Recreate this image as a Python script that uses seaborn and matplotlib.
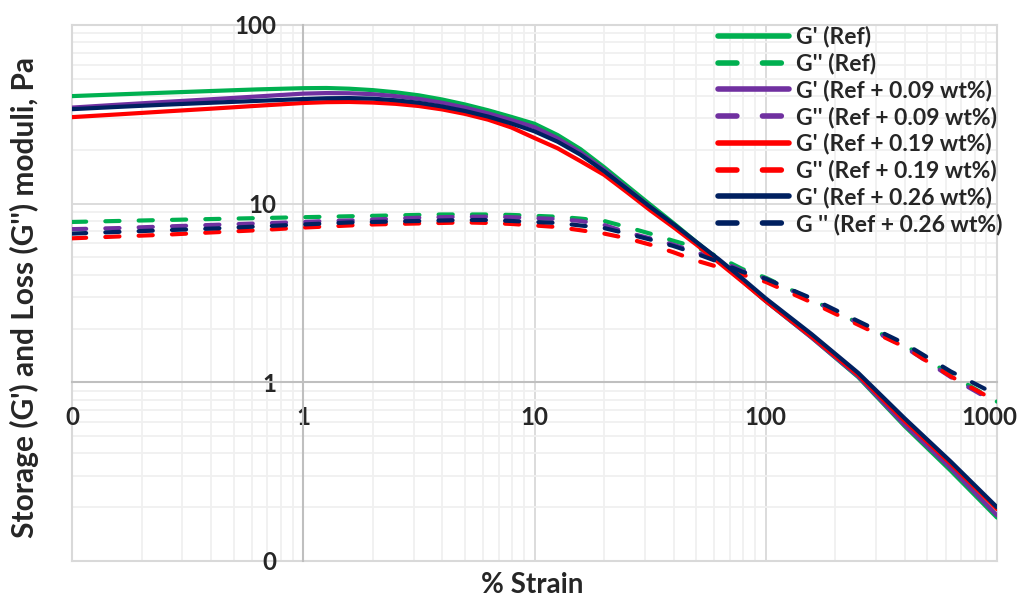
import matplotlib
matplotlib.use("Agg")
import matplotlib.pyplot as plt
from matplotlib import font_manager
from matplotlib.transforms import ScaledTranslation
from matplotlib.ticker import FixedLocator, FixedFormatter, LogLocator, NullFormatter
import seaborn as sns
import pandas as pd

# ---------------- data ----------------
strain = [0.1, 0.158, 0.251, 0.398, 0.631, 1, 1.26, 1.58, 2, 2.51, 3.16, 3.98,
          5.01, 6.31, 7.94, 10, 12.6, 15.8, 20, 25.1, 31.6, 39.8, 50.1, 63.1,
          79.4, 100, 158, 251, 398, 631, 1000]

gp_ref = [40.0, 40.9, 41.8, 42.7, 43.6, 44.3, 44.4, 44.0, 43.2, 42.0, 40.4, 38.3,
          35.9, 33.3, 30.6, 28.0, 24.2, 20.2, 16.0, 12.6, 9.9, 7.8, 6.1, 4.8,
          3.7, 2.85, 1.78, 1.07, 0.57, 0.32, 0.175]
gpp_ref = [7.9, 8.0, 8.1, 8.2, 8.3, 8.4, 8.45, 8.5, 8.55, 8.6, 8.65, 8.7,
           8.7, 8.7, 8.65, 8.55, 8.45, 8.25, 8.0, 7.4, 6.8, 6.2, 5.7, 5.0,
           4.3, 3.85, 2.9, 2.15, 1.62, 1.1, 0.78]

gp_009 = [34.5, 35.8, 37.1, 38.4, 39.8, 41.3, 41.6, 41.5, 41.0, 40.0, 38.6, 36.7,
          34.5, 32.0, 29.4, 26.8, 23.2, 19.4, 15.5, 12.2, 9.6, 7.6, 6.0, 4.75,
          3.68, 2.85, 1.78, 1.08, 0.58, 0.33, 0.18]
gpp_009 = [7.2, 7.3, 7.45, 7.6, 7.75, 7.9, 8.0, 8.05, 8.15, 8.25, 8.35, 8.4,
           8.45, 8.45, 8.4, 8.3, 8.2, 8.0, 7.6, 6.9, 6.4, 5.9, 5.35, 4.8,
           4.2, 3.8, 2.9, 2.15, 1.58, 1.07, 0.76]

gp_019 = [30.5, 31.6, 32.8, 34.0, 35.3, 36.6, 37.0, 37.1, 36.8, 36.2, 35.2, 33.7,
          31.8, 29.5, 26.7, 23.3, 20.4, 17.3, 14.5, 11.6, 9.2, 7.4, 5.9, 4.65,
          3.65, 2.85, 1.8, 1.1, 0.61, 0.35, 0.195]
gpp_019 = [6.4, 6.55, 6.7, 6.9, 7.1, 7.35, 7.45, 7.55, 7.65, 7.7, 7.75, 7.8,
           7.85, 7.8, 7.7, 7.55, 7.4, 7.1, 6.8, 6.4, 5.9, 5.35, 4.8, 4.4,
           4.0, 3.65, 2.8, 2.1, 1.58, 1.08, 0.78]

gp_026 = [33.8, 34.8, 35.8, 36.7, 37.6, 38.5, 38.9, 39.0, 38.7, 37.9, 36.7, 35.0,
          33.0, 30.7, 28.1, 25.4, 22.2, 18.8, 15.2, 12.1, 9.6, 7.7, 6.1, 4.85,
          3.8, 2.95, 1.86, 1.13, 0.63, 0.36, 0.2]
gpp_026 = [6.8, 6.95, 7.1, 7.25, 7.45, 7.65, 7.75, 7.85, 7.9, 7.95, 8.0, 8.05,
           8.1, 8.1, 8.0, 7.9, 7.8, 7.55, 7.3, 6.8, 6.3, 5.8, 5.25, 4.7,
           4.15, 3.8, 2.95, 2.2, 1.65, 1.15, 0.85]

labels = ["G' (Ref)", "G'' (Ref)",
          "G' (Ref + 0.09 wt%)", "G'' (Ref + 0.09 wt%)",
          "G' (Ref + 0.19 wt%)", "G'' (Ref + 0.19 wt%)",
          "G' (Ref + 0.26 wt%)", "G '' (Ref + 0.26 wt%)"]
series = [gp_ref, gpp_ref, gp_009, gpp_009, gp_019, gpp_019, gp_026, gpp_026]
colors = ["#00B050", "#00B050", "#7030A0", "#7030A0",
          "#FF0000", "#FF0000", "#002060", "#002060"]
dashed = [False, True, False, True, False, True, False, True]

x_ticks = [0.1, 1, 10, 100, 1000]
x_tick_labels = ["0", "1", "10", "100", "1000"]
y_ticks = [0.1, 1, 10, 100]
y_tick_labels = ["0", "1", "10", "100"]

# ---------------- pick a family with a real bold face ----------------
def bold_family(candidates):
    for fam in candidates:
        for f in font_manager.fontManager.ttflist:
            w = f.weight
            if isinstance(w, str):
                w = 700 if "bold" in w.lower() else 400
            if f.name == fam and w >= 600 and f.style == "normal":
                return fam
    return "DejaVu Sans"

FAM = bold_family(["Lato", "Open Sans", "Noto Sans", "Liberation Sans"])

# ---------------- style ----------------
sns.set_theme(style="white")
plt.rcParams["font.family"] = [FAM, "DejaVu Sans"]
plt.rcParams["font.weight"] = "bold"

fig = plt.figure(figsize=(10.22, 5.97), dpi=100)
rect = [72 / 1022, 36 / 597, 925 / 1022, 536 / 597]


def setup_scales(a):
    a.set_xscale("log")
    a.set_yscale("log")
    a.set_xlim(0.1, 1000)
    a.set_ylim(0.1, 100)
    a.xaxis.set_major_locator(FixedLocator(x_ticks))
    a.yaxis.set_major_locator(FixedLocator(y_ticks))
    a.xaxis.set_minor_locator(LogLocator(base=10, subs=range(2, 10), numticks=20))
    a.yaxis.set_minor_locator(LogLocator(base=10, subs=range(2, 10), numticks=20))
    a.xaxis.set_minor_formatter(NullFormatter())
    a.yaxis.set_minor_formatter(NullFormatter())
    a.tick_params(axis="both", which="both", length=0)


# background axes: gridlines and frame only
gax = fig.add_axes(rect, zorder=0)
setup_scales(gax)
gax.grid(True, which="minor", color="#F0F0F0", lw=1.3)
gax.grid(True, which="major", color="#D9D9D9", lw=1.3)
gax.set_xticklabels([])
gax.set_yticklabels([])
for s in gax.spines.values():
    s.set_color("#D9D9D9")
    s.set_linewidth(1.5)

# main axes: data, crossing axes and labels
ax = fig.add_axes(rect, zorder=1)
ax.patch.set_visible(False)

frames = []
for lab, vals in zip(labels, series):
    frames.append(pd.DataFrame({"strain": strain, "modulus": vals, "series": lab}))
df = pd.concat(frames, ignore_index=True)

for lab, col, d in zip(labels, colors, dashed):
    sub = df[df["series"] == lab]
    sns.lineplot(data=sub, x="strain", y="modulus", ax=ax, color=col,
                 lw=3.0, label=lab, estimator=None, sort=True)
    ln = ax.lines[-1]
    ln.set_solid_capstyle("round")
    ln.set_solid_joinstyle("round")
    if d:
        ln.set_dashes((3.4, 4.6))
        ln.set_dash_capstyle("round")

setup_scales(ax)
ax.grid(False)
ax.xaxis.set_major_formatter(FixedFormatter(x_tick_labels))
ax.yaxis.set_major_formatter(FixedFormatter(y_tick_labels))

# axes cross at (1, 1)
ax.spines["left"].set_position(("data", 1))
ax.spines["bottom"].set_position(("data", 1))
for s in ["left", "bottom"]:
    ax.spines[s].set_color("#BFBFBF")
    ax.spines[s].set_linewidth(1.5)
    ax.spines[s].set_zorder(1.5)
for s in ["top", "right"]:
    ax.spines[s].set_visible(False)

ax.tick_params(axis="x", pad=17, labelsize=17.3)
ax.tick_params(axis="y", pad=19.5, labelsize=17.3)
for t in ax.get_xticklabels() + ax.get_yticklabels():
    t.set_fontweight("bold")

# nudge the last x tick label so it stays inside the figure
fig.canvas.draw()
last = ax.xaxis.get_major_ticks()[-1].label1
last.set_transform(last.get_transform() + ScaledTranslation(-5.5 / 72, 0, fig.dpi_scale_trans))

ax.set_xlabel("% Strain", fontsize=20, fontweight="bold")
ax.set_ylabel("Storage (G') and Loss (G'') moduli, Pa", fontsize=21.5, fontweight="bold")
ax.xaxis.set_label_coords(0.498, -0.02)
ax.yaxis.set_label_coords(-0.036, 0.491)

leg = ax.legend(loc="upper left", bbox_to_anchor=((718 - 72) / 925, 0.998),
                frameon=False, borderpad=0, borderaxespad=0,
                handlelength=3.1, handletextpad=0.3, labelspacing=0.22,
                prop={"size": 16.5, "weight": "bold"})
for h in leg.get_lines():
    h.set_linewidth(4)

fig.savefig("out.png", dpi=100)
